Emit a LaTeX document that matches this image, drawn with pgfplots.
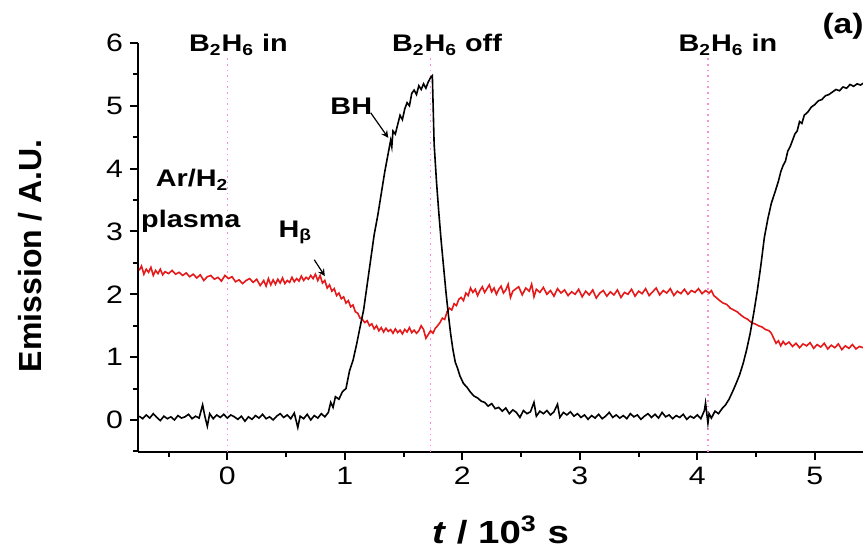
\documentclass[border=0pt]{standalone}
\usepackage{fontspec}
\setmainfont{Liberation Sans}[FakeStretch=1.2]
\newfontfamily\plainfont{Liberation Sans}
\usepackage{pgfplots}
\pgfplotsset{compat=1.18}
\definecolor{pinkline}{rgb}{1,0.55,0.85}
\definecolor{hbred}{rgb}{0.9,0.1,0.1}
\begin{document}
\begin{tikzpicture}
\begin{axis}[
 scale only axis, width=362.5pt, height=204.5pt,
 xmin=-0.76, xmax=5.41, ymin=-0.51, ymax=6,
 axis x line*=bottom, axis y line*=left,
 axis line style={line width=1.1pt},
 xtick={0,1,2,3,4,5}, ytick={0,1,2,3,4,5,6},
 minor xtick={-0.5,0.5,1.5,2.5,3.5,4.5}, minor ytick={-0.5,0.5,1.5,2.5,3.5,4.5,5.5},
 tick align=outside, major tick length=4pt, minor tick length=2.5pt,
 every tick/.style={line width=1pt, black},
 ticklabel style={font=\fontsize{12.6}{14}\selectfont},
 /pgf/number format/assume math mode=true,
 clip=false,
]
% pink dotted markers
\addplot[pinkline, dotted, line width=0.8pt] coordinates {(0,-0.51) (0,5.78)};
\addplot[pinkline, dotted, line width=0.8pt] coordinates {(1.73,-0.51) (1.73,5.78)};
\addplot[pinkline, dotted, line width=0.8pt] coordinates {(4.09,-0.51) (4.09,5.78)};
% H beta (red)
\addplot[hbred, line width=0.8pt] coordinates {
(-0.75,2.38) (-0.73,2.45) (-0.71,2.32) (-0.69,2.40) (-0.67,2.35) (-0.65,2.43) (-0.63,2.30) (-0.61,2.38)
(-0.59,2.33) (-0.57,2.40) (-0.55,2.31) (-0.53,2.36) (-0.50,2.33) (-0.47,2.38) (-0.44,2.32) (-0.41,2.35)
(-0.38,2.30) (-0.35,2.34) (-0.32,2.28) (-0.29,2.32) (-0.26,2.26) (-0.23,2.31) (-0.20,2.22) (-0.17,2.28)
(-0.14,2.30) (-0.11,2.24) (-0.08,2.27) (-0.05,2.21) (-0.02,2.30) (0.01,2.25) (0.04,2.28) (0.07,2.20)
(0.10,2.23) (0.13,2.17) (0.16,2.22) (0.19,2.25) (0.22,2.19) (0.25,2.24) (0.28,2.14) (0.31,2.22)
(0.33,2.13) (0.35,2.25) (0.37,2.15) (0.39,2.23) (0.41,2.16) (0.43,2.24) (0.45,2.18) (0.47,2.26)
(0.49,2.17) (0.51,2.22) (0.53,2.19) (0.55,2.27) (0.57,2.20) (0.59,2.25) (0.61,2.21) (0.63,2.29)
(0.65,2.22) (0.67,2.27) (0.69,2.24) (0.71,2.30) (0.73,2.25) (0.75,2.32) (0.77,2.22) (0.79,2.30)
(0.81,2.18) (0.83,2.22) (0.85,2.10) (0.87,2.15) (0.89,2.05) (0.91,2.09) (0.93,1.98) (0.95,2.02)
(0.97,1.93) (0.99,1.96) (1.01,1.86) (1.03,1.90) (1.05,1.80) (1.07,1.83) (1.09,1.72) (1.11,1.70)
(1.13,1.62) (1.15,1.60) (1.17,1.55) (1.19,1.58) (1.21,1.50) (1.23,1.53) (1.25,1.45) (1.27,1.50)
(1.29,1.42) (1.31,1.47) (1.33,1.40) (1.35,1.46) (1.37,1.41) (1.39,1.44) (1.41,1.38) (1.43,1.45)
(1.45,1.39) (1.47,1.43) (1.49,1.37) (1.51,1.44) (1.53,1.40) (1.55,1.47) (1.57,1.39) (1.59,1.43)
(1.61,1.38) (1.63,1.42) (1.65,1.50) (1.67,1.44) (1.69,1.30) (1.71,1.36) (1.73,1.42) (1.75,1.38)
(1.77,1.46) (1.79,1.50) (1.81,1.55) (1.83,1.62) (1.85,1.60) (1.87,1.72) (1.89,1.78) (1.91,1.75)
(1.93,1.85) (1.95,1.82) (1.97,1.92) (1.99,1.95) (2.01,1.90) (2.03,2.02) (2.05,1.98) (2.07,2.10)
(2.09,2.03) (2.11,2.08) (2.13,1.98) (2.15,2.06) (2.17,2.12) (2.19,2.03) (2.21,2.09) (2.23,2.15)
(2.25,2.04) (2.27,2.10) (2.29,2.00) (2.31,2.08) (2.33,2.13) (2.35,2.02) (2.37,2.07) (2.39,2.16)
(2.41,1.95) (2.43,2.05) (2.45,2.08) (2.48,2.12) (2.51,1.99) (2.54,2.10) (2.57,2.05) (2.59,2.16)
(2.61,1.96) (2.63,2.08) (2.66,2.03) (2.69,2.11) (2.72,2.00) (2.75,2.06) (2.78,1.97) (2.81,2.09)
(2.84,2.02) (2.87,2.07) (2.90,1.98) (2.93,2.04) (2.96,2.00) (2.99,2.08) (3.02,1.96) (3.05,2.05)
(3.08,1.99) (3.11,2.07) (3.14,1.94) (3.17,2.02) (3.20,2.06) (3.23,1.97) (3.26,2.04) (3.29,1.99)
(3.32,2.07) (3.35,1.95) (3.38,2.03) (3.41,2.00) (3.44,2.08) (3.47,1.97) (3.50,2.05) (3.53,2.01)
(3.56,2.09) (3.59,1.98) (3.62,2.04) (3.65,2.10) (3.68,1.99) (3.71,2.06) (3.74,2.02) (3.77,2.09)
(3.80,1.98) (3.83,2.05) (3.86,2.01) (3.89,2.08) (3.92,2.00) (3.95,2.06) (3.98,2.03) (4.01,2.09)
(4.04,2.01) (4.07,2.06) (4.10,2.02) (4.12,2.06) (4.14,1.98) (4.16,1.95) (4.19,1.90) (4.22,1.86)
(4.25,1.84) (4.28,1.78) (4.31,1.75) (4.34,1.72) (4.37,1.67) (4.40,1.63) (4.43,1.60) (4.46,1.55)
(4.49,1.53) (4.52,1.50) (4.55,1.48) (4.58,1.44) (4.61,1.42) (4.63,1.38) (4.65,1.30) (4.67,1.22)
(4.69,1.26) (4.71,1.18) (4.73,1.25) (4.75,1.20) (4.78,1.24) (4.81,1.17) (4.84,1.22) (4.87,1.15)
(4.90,1.21) (4.93,1.18) (4.96,1.23) (4.99,1.14) (5.02,1.20) (5.05,1.16) (5.08,1.22) (5.11,1.13)
(5.14,1.19) (5.17,1.15) (5.20,1.21) (5.23,1.12) (5.26,1.18) (5.29,1.14) (5.32,1.20) (5.35,1.13)
(5.38,1.17) (5.41,1.15)
};
% BH (black)
\addplot[black, line width=0.8pt] coordinates {
(-0.75,0.06) (-0.72,0.02) (-0.69,0.08) (-0.66,0.03) (-0.63,0.10) (-0.60,0.04) (-0.57,-0.01) (-0.54,0.06)
(-0.51,0.02) (-0.48,0.05) (-0.45,0.00) (-0.42,0.07) (-0.39,0.03) (-0.36,0.05) (-0.33,0.09) (-0.30,0.02)
(-0.27,0.06) (-0.24,0.03) (-0.21,0.24) (-0.19,0.05) (-0.17,-0.10) (-0.15,0.10) (-0.12,0.02) (-0.09,0.08)
(-0.06,0.04) (-0.03,0.09) (0.00,0.03) (0.03,0.08) (0.06,0.05) (0.09,0.01) (0.12,0.06) (0.15,-0.02)
(0.18,0.05) (0.21,0.01) (0.24,0.07) (0.27,0.03) (0.30,0.09) (0.33,0.02) (0.36,0.05) (0.39,0.00)
(0.42,0.06) (0.45,0.10) (0.48,0.04) (0.51,0.08) (0.54,0.02) (0.57,0.11) (0.60,-0.12) (0.62,0.06)
(0.65,0.02) (0.68,0.09) (0.71,0.00) (0.74,0.07) (0.77,0.03) (0.80,0.10) (0.83,0.05) (0.86,0.12)
(0.88,0.28) (0.90,0.20) (0.92,0.37) (0.95,0.33) (0.98,0.45) (1.01,0.50) (1.04,0.78) (1.07,0.95)
(1.10,1.20) (1.13,1.48) (1.16,1.75) (1.19,2.15) (1.22,2.55) (1.25,2.95) (1.28,3.25) (1.31,3.60)
(1.34,3.95) (1.37,4.25) (1.39,4.45) (1.40,4.35) (1.41,4.60) (1.43,4.55) (1.45,4.70) (1.47,4.85)
(1.49,4.78) (1.51,4.95) (1.53,5.05) (1.55,5.00) (1.57,5.20) (1.59,5.25) (1.61,5.18) (1.63,5.32)
(1.65,5.26) (1.67,5.35) (1.69,5.28) (1.71,5.38) (1.73,5.45) (1.745,5.48) (1.76,4.40) (1.78,3.80)
(1.80,3.30) (1.82,2.85) (1.84,2.45) (1.86,2.05) (1.88,1.70) (1.90,1.38) (1.92,1.12) (1.94,0.92)
(1.96,0.82) (1.98,0.70) (2.01,0.58) (2.04,0.52) (2.07,0.44) (2.10,0.38) (2.13,0.35) (2.16,0.30)
(2.19,0.28) (2.22,0.22) (2.25,0.26) (2.28,0.18) (2.31,0.20) (2.34,0.14) (2.37,0.19) (2.40,0.10)
(2.43,0.16) (2.46,0.12) (2.49,0.04) (2.52,0.15) (2.55,0.10) (2.58,0.13) (2.61,0.28) (2.63,0.06)
(2.66,0.14) (2.69,0.10) (2.72,0.15) (2.75,0.08) (2.78,0.13) (2.81,0.25) (2.83,0.04) (2.86,0.12)
(2.89,0.08) (2.92,0.13) (2.95,0.06) (2.98,0.10) (3.01,0.04) (3.04,0.08) (3.07,0.01) (3.10,0.07)
(3.13,0.03) (3.16,0.09) (3.19,0.02) (3.22,0.06) (3.25,0.12) (3.28,0.04) (3.31,0.08) (3.34,0.03)
(3.37,0.07) (3.40,0.02) (3.43,0.10) (3.46,0.05) (3.49,0.08) (3.52,0.01) (3.55,0.06) (3.58,0.10)
(3.61,0.04) (3.64,0.09) (3.67,0.03) (3.70,0.12) (3.73,0.05) (3.76,0.08) (3.79,0.02) (3.82,0.07)
(3.85,0.04) (3.88,0.09) (3.91,0.01) (3.94,0.06) (3.97,0.03) (4.00,0.08) (4.03,0.02) (4.06,0.15)
(4.07,0.27) (4.09,-0.05) (4.10,0.10) (4.12,0.03) (4.15,0.14) (4.18,0.10) (4.21,0.18) (4.24,0.24)
(4.27,0.33) (4.30,0.45) (4.33,0.58) (4.36,0.72) (4.39,0.90) (4.42,1.12) (4.45,1.38) (4.48,1.70)
(4.51,2.05) (4.54,2.45) (4.57,2.90) (4.60,3.20) (4.63,3.45) (4.66,3.62) (4.69,3.80) (4.71,3.95)
(4.73,4.05) (4.75,4.12) (4.77,4.28) (4.79,4.35) (4.81,4.45) (4.83,4.55) (4.85,4.60) (4.87,4.75)
(4.89,4.72) (4.91,4.85) (4.94,4.90) (4.97,4.98) (5.00,5.02) (5.03,5.08) (5.06,5.10) (5.09,5.16)
(5.12,5.18) (5.15,5.22) (5.18,5.26) (5.21,5.24) (5.24,5.30) (5.27,5.28) (5.30,5.34) (5.33,5.31)
(5.36,5.35) (5.39,5.33) (5.41,5.36)
};
% annotations
\tikzset{lab/.style={font=\fontsize{12}{14}\selectfont\bfseries, inner sep=0pt}}
\node[lab, anchor=base] at (axis cs:0.094,5.86) {B\textsubscript{2}H\textsubscript{6} in};
\node[lab, anchor=base] at (axis cs:1.87,5.86) {B\textsubscript{2}H\textsubscript{6} off};
\node[lab, anchor=base] at (axis cs:4.26,5.86) {B\textsubscript{2}H\textsubscript{6} in};
\node[lab, anchor=base, font=\fontsize{14}{16}\selectfont\bfseries] at (axis cs:5.24,6.15) {(a)};
\node[lab, anchor=base] at (axis cs:1.055,4.86) {BH};
\node[lab, anchor=base] at (axis cs:-0.30,3.71) {Ar/H\textsubscript{2}};
\node[lab, anchor=base] at (axis cs:-0.31,3.07) {plasma};
\node[lab, anchor=base] at (axis cs:0.58,2.91) {H\textsubscript{β}};
\draw[-stealth, line width=0.6pt] (axis cs:1.22,4.89) -- (axis cs:1.37,4.49);
\draw[-stealth, line width=0.6pt] (axis cs:0.74,2.55) -- (axis cs:0.83,2.29);
% axis labels
\node[rotate=90, font=\plainfont\fontsize{16}{18}\selectfont\bfseries, anchor=center] at ([xshift=-54pt]rel axis cs:0,0.48) {Emission / A.U.};
\node[font=\fontsize{16}{18}\selectfont\bfseries, anchor=center] at ([yshift=-39pt]rel axis cs:0.5,0) {\textit{t} / 10\textsuperscript{3} s};
\coordinate (SW) at (rel axis cs:0,0);
\coordinate (NE) at (rel axis cs:1,1);
\end{axis}
\pgfresetboundingbox
\path ([xshift=-69pt,yshift=-50pt]SW) rectangle ([yshift=21.5pt]NE);
\end{tikzpicture}
\end{document}
